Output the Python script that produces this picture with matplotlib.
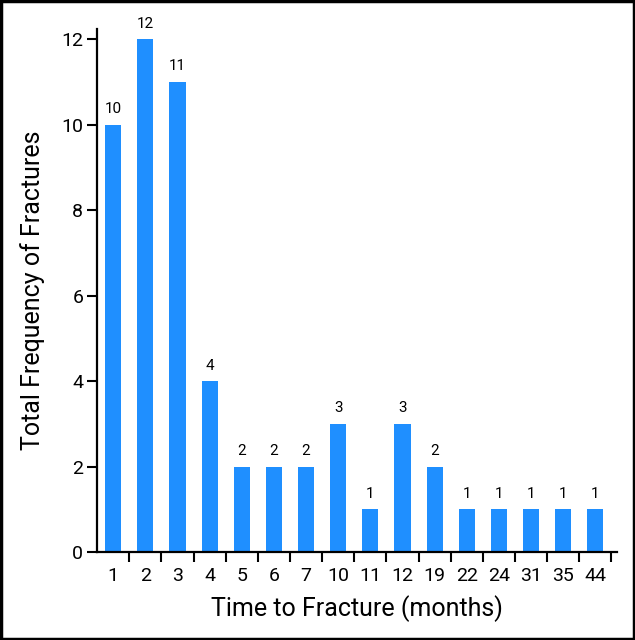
import numpy as np
import matplotlib
matplotlib.use("Agg")
import matplotlib.pyplot as plt
from matplotlib.patches import Rectangle

months = ['1', '2', '3', '4', '5', '6', '7', '10', '11', '12', '19', '22', '24', '31', '35', '44']
fractures = [10, 12, 11, 4, 2, 2, 2, 3, 1, 3, 2, 1, 1, 1, 1, 1]

plt.rcParams['font.family'] = ['Roboto', 'DejaVu Sans']

fig = plt.figure(figsize=(6.35, 6.4), dpi=100)
ax = fig.add_axes([0.153, 0.1375, 0.818, 0.8165])

x = np.arange(1, len(months) + 1)
bars = ax.bar(x, fractures, width=0.5, color='#1f8fff', zorder=2)

for xi, v in zip(x, fractures):
    ax.text(xi, v + 0.2, str(v), ha='center', va='bottom', fontsize=11)

ax.set_xlim(0.5, 16.66)
ax.set_ylim(0, 12.23)
ax.set_yticks([0, 2, 4, 6, 8, 10, 12])

# ticks sit between the bars, labels centred under them
ax.set_xticks(x + 0.5)
ax.set_xticklabels([])
ax.set_xticks(x, minor=True)
ax.set_xticklabels(months, minor=True)
ax.tick_params(axis='x', which='minor', length=0, labelsize=14, pad=11)
ax.tick_params(axis='x', which='major', length=7, width=1.5, direction='out')
ax.tick_params(axis='y', length=7, width=1.5, direction='out', labelsize=14, pad=3)

for side in ['top', 'right']:
    ax.spines[side].set_visible(False)
for side in ['left', 'bottom']:
    ax.spines[side].set_linewidth(1.6)

ax.set_xlabel('Time to Fracture (months)', fontsize=18, labelpad=7)
ax.set_ylabel('Total Frequency of Fractures', fontsize=18, labelpad=12)

fig.patches.append(Rectangle((0.002, 0.002), 0.996, 0.996, transform=fig.transFigure,
                             fill=False, edgecolor='black', linewidth=2.5))

fig.savefig('out.png', dpi=100)
